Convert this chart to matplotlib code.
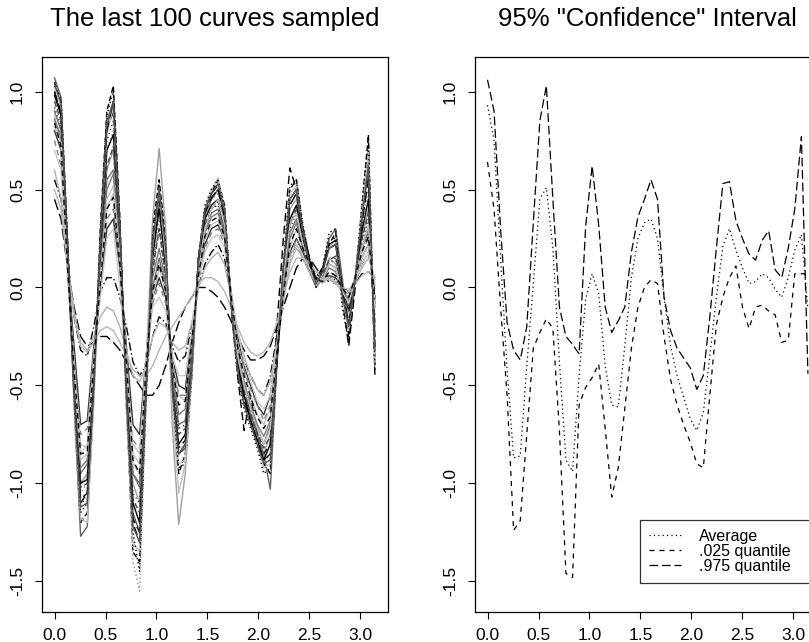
import matplotlib
matplotlib.use("Agg")
import matplotlib.pyplot as plt

plt.rcParams['font.family'] = ['Liberation Sans', 'DejaVu Sans']

# x grid (0 .. pi, 50 points)
x_grid = [0.000, 0.064, 0.128, 0.192, 0.256, 0.321, 0.385, 0.449, 0.513, 0.577,
          0.641, 0.705, 0.769, 0.834, 0.898, 0.962, 1.026, 1.090, 1.154, 1.218,
          1.282, 1.346, 1.411, 1.475, 1.539, 1.603, 1.667, 1.731, 1.795, 1.859,
          1.923, 1.988, 2.052, 2.116, 2.180, 2.244, 2.308, 2.372, 2.436, 2.500,
          2.565, 2.629, 2.693, 2.757, 2.821, 2.885, 2.949, 3.013, 3.078, 3.142]

# Right panel series
average = [0.93, 0.75, 0.15, -0.42, -0.87, -0.86, -0.40, 0.02, 0.45, 0.51,
           0.20, -0.38, -0.88, -0.94, -0.45, -0.06, 0.07, -0.03, -0.40, -0.60,
           -0.61, -0.30, 0.05, 0.25, 0.33, 0.35, 0.25, -0.05, -0.30, -0.45,
           -0.56, -0.67, -0.73, -0.64, -0.35, -0.05, 0.21, 0.30, 0.19, 0.10,
           0.02, 0.03, 0.07, 0.05, -0.01, -0.05, 0.05, 0.19, 0.27, -0.11]
q025 = [0.64, 0.40, -0.10, -0.55, -1.24, -1.19, -0.75, -0.31, -0.23, -0.16,
        -0.21, -0.73, -1.46, -1.48, -0.60, -0.51, -0.46, -0.39, -0.72, -1.07,
        -0.92, -0.62, -0.31, -0.10, 0.00, 0.04, 0.02, -0.25, -0.47, -0.60,
        -0.70, -0.79, -0.90, -0.92, -0.55, -0.19, -0.05, 0.05, 0.11, -0.10,
        -0.21, -0.10, -0.09, -0.12, -0.14, -0.28, -0.27, 0.07, 0.07, 0.07]
q975 = [1.06, 0.90, 0.30, -0.18, -0.32, -0.37, -0.20, 0.33, 0.85, 1.03,
        0.45, -0.10, -0.25, -0.29, -0.34, 0.31, 0.62, 0.32, -0.10, -0.23,
        -0.17, -0.10, 0.18, 0.36, 0.45, 0.55, 0.45, -0.05, -0.22, -0.31,
        -0.36, -0.41, -0.52, -0.45, -0.15, 0.20, 0.53, 0.54, 0.34, 0.25,
        0.17, 0.14, 0.24, 0.29, 0.09, 0.05, 0.20, 0.40, 0.77, -0.44]

# Left panel: a selection of sampled curves
curve01 = [1.05, 0.95, 0.25, -0.50, -1.20, -1.15, -0.55, 0.30, 0.90, 1.03, 0.35, -0.60, -1.35, -1.40, -0.55, 0.30, 0.55, 0.25, -0.60, -0.95, -0.85, -0.45, 0.15, 0.40, 0.48, 0.55, 0.42, -0.05, -0.35, -0.55, -0.65, -0.75, -0.90, -0.95, -0.40, 0.10, 0.50, 0.55, 0.30, 0.15, 0.05, 0.10, 0.22, 0.28, 0.00, -0.25, 0.05, 0.40, 0.78, -0.42]
curve02 = [0.90, 0.80, 0.15, -0.45, -0.95, -0.90, -0.40, 0.05, 0.55, 0.60, 0.20, -0.40, -0.95, -1.00, -0.45, 0.00, 0.15, 0.00, -0.45, -0.70, -0.68, -0.30, 0.10, 0.30, 0.38, 0.40, 0.28, -0.05, -0.35, -0.50, -0.62, -0.72, -0.80, -0.70, -0.35, 0.00, 0.28, 0.35, 0.20, 0.08, 0.00, 0.05, 0.12, 0.10, 0.00, -0.08, 0.05, 0.20, 0.30, -0.10]
curve03 = [0.80, 0.70, 0.10, -0.30, -0.70, -0.68, -0.30, 0.00, 0.30, 0.35, 0.10, -0.30, -0.70, -0.75, -0.35, -0.05, 0.05, -0.05, -0.35, -0.50, -0.52, -0.25, 0.05, 0.22, 0.30, 0.32, 0.25, -0.02, -0.25, -0.40, -0.50, -0.60, -0.65, -0.55, -0.30, -0.02, 0.18, 0.25, 0.18, 0.10, 0.05, 0.05, 0.06, 0.05, 0.00, -0.02, 0.04, 0.15, 0.22, -0.05]
curve04 = [0.45, 0.35, 0.10, -0.10, -0.25, -0.30, -0.28, -0.25, -0.25, -0.28, -0.32, -0.38, -0.45, -0.50, -0.55, -0.55, -0.50, -0.40, -0.28, -0.18, -0.10, -0.05, 0.00, 0.00, -0.02, -0.05, -0.10, -0.17, -0.25, -0.32, -0.37, -0.37, -0.35, -0.30, -0.20, -0.10, 0.00, 0.10, 0.15, 0.15, 0.10, 0.05, 0.03, 0.02, 0.00, -0.02, 0.02, 0.07, 0.08, 0.05]
curve05 = [0.55, 0.45, 0.15, -0.15, -0.32, -0.35, -0.20, -0.02, 0.05, 0.05, -0.05, -0.20, -0.38, -0.45, -0.40, -0.25, -0.15, -0.18, -0.30, -0.38, -0.35, -0.20, 0.00, 0.12, 0.18, 0.22, 0.15, -0.05, -0.25, -0.38, -0.45, -0.52, -0.55, -0.45, -0.25, -0.05, 0.15, 0.22, 0.15, 0.08, 0.02, 0.03, 0.05, 0.04, 0.00, -0.03, 0.03, 0.12, 0.18, -0.02]
curve06 = [0.95, 0.85, 0.20, -0.55, -1.05, -1.00, -0.45, 0.15, 0.70, 0.80, 0.25, -0.55, -1.40, -1.55, -0.60, 0.10, 0.35, 0.10, -0.55, -0.85, -0.80, -0.40, 0.10, 0.35, 0.45, 0.48, 0.35, -0.05, -0.40, -0.58, -0.70, -0.80, -0.90, -0.85, -0.40, 0.05, 0.35, 0.40, 0.25, 0.10, 0.00, 0.05, 0.15, 0.15, -0.05, -0.15, 0.05, 0.30, 0.50, -0.30]
curve07 = [0.85, 0.78, 0.12, -0.50, -1.00, -0.95, -0.40, 0.10, 0.60, 0.70, 0.20, -0.45, -1.00, -1.10, -0.40, 0.35, 0.71, 0.30, -0.70, -1.21, -0.95, -0.45, 0.10, 0.35, 0.45, 0.50, 0.35, -0.05, -0.40, -0.55, -0.68, -0.78, -0.85, -0.75, -0.30, 0.10, 0.40, 0.45, 0.25, 0.10, 0.02, 0.05, 0.15, 0.12, -0.02, -0.10, 0.05, 0.25, 0.40, -0.20]
curve08 = [1.00, 0.90, 0.20, -0.55, -1.10, -1.05, -0.50, 0.20, 0.80, 0.90, 0.30, -0.55, -1.20, -1.30, -0.50, 0.25, 0.50, 0.20, -0.55, -0.85, -0.80, -0.40, 0.15, 0.40, 0.48, 0.52, 0.38, -0.10, -0.45, -0.73, -0.55, -0.75, -0.85, -0.80, -0.20, 0.25, 0.61, 0.50, 0.30, 0.15, 0.05, 0.08, 0.25, 0.25, -0.05, -0.30, 0.00, 0.35, 0.70, -0.45]
curve09 = [1.07, 0.97, 0.22, -0.60, -1.27, -1.22, -0.55, 0.25, 0.85, 0.95, 0.30, -0.50, -1.15, -1.25, -0.50, 0.20, 0.45, 0.15, -0.50, -0.85, -0.80, -0.40, 0.15, 0.38, 0.45, 0.50, 0.38, -0.08, -0.40, -0.55, -0.65, -0.75, -0.85, -1.03, -0.40, 0.10, 0.45, 0.50, 0.25, 0.12, 0.02, 0.10, 0.25, 0.30, 0.05, -0.20, 0.05, 0.35, 0.60, -0.35]
curve10 = [0.88, 0.72, 0.10, -0.40, -0.80, -0.82, -0.35, 0.05, 0.40, 0.48, 0.15, -0.35, -0.85, -0.90, -0.40, -0.05, 0.10, -0.02, -0.38, -0.55, -0.58, -0.28, 0.05, 0.25, 0.32, 0.34, 0.25, -0.05, -0.28, -0.42, -0.55, -0.65, -0.70, -0.62, -0.32, -0.05, 0.20, 0.30, 0.20, 0.12, 0.05, 0.02, 0.05, 0.02, -0.02, -0.05, 0.05, 0.15, 0.22, -0.08]
curve11 = [0.98, 0.88, 0.18, -0.48, -1.00, -0.98, -0.45, 0.15, 0.70, 0.78, 0.25, -0.50, -1.10, -1.20, -0.50, 0.15, 0.40, 0.10, -0.50, -0.80, -0.75, -0.38, 0.12, 0.35, 0.42, 0.45, 0.32, -0.05, -0.38, -0.55, -0.68, -0.78, -0.88, -0.80, -0.38, 0.05, 0.35, 0.42, 0.25, 0.12, 0.05, 0.10, 0.20, 0.22, 0.00, -0.12, 0.05, 0.28, 0.45, -0.25]
curve12 = [0.75, 0.62, 0.08, -0.35, -0.75, -0.72, -0.32, 0.00, 0.35, 0.40, 0.10, -0.35, -0.78, -0.82, -0.38, -0.08, 0.02, -0.08, -0.38, -0.55, -0.55, -0.28, 0.02, 0.20, 0.28, 0.30, 0.22, -0.05, -0.28, -0.42, -0.52, -0.60, -0.68, -0.60, -0.32, -0.05, 0.15, 0.25, 0.15, 0.08, 0.02, 0.04, 0.08, 0.06, -0.02, -0.05, 0.05, 0.18, 0.25, 0.00]
curve13 = [0.60, 0.45, 0.12, -0.12, -0.28, -0.32, -0.25, -0.15, -0.10, -0.12, -0.20, -0.32, -0.45, -0.48, -0.40, -0.25, -0.18, -0.20, -0.28, -0.32, -0.30, -0.18, 0.00, 0.10, 0.15, 0.18, 0.12, -0.05, -0.22, -0.35, -0.45, -0.52, -0.55, -0.48, -0.28, -0.08, 0.12, 0.20, 0.15, 0.08, 0.02, 0.03, 0.05, 0.03, -0.02, -0.03, 0.03, 0.10, 0.15, 0.05]
curve14 = [0.92, 0.82, 0.15, -0.52, -1.10, -1.08, -0.48, 0.12, 0.75, 0.85, 0.25, -0.45, -1.05, -1.10, -0.45, 0.10, 0.30, 0.05, -0.45, -0.72, -0.70, -0.35, 0.10, 0.32, 0.40, 0.42, 0.30, -0.05, -0.35, -0.50, -0.62, -0.72, -0.80, -0.72, -0.35, 0.05, 0.30, 0.38, 0.22, 0.10, 0.02, 0.05, 0.12, 0.15, -0.02, -0.10, 0.05, 0.22, 0.35, -0.15]
curve15 = [1.02, 0.92, 0.18, -0.58, -1.18, -1.20, -0.60, 0.20, 0.78, 0.92, 0.28, -0.62, -1.30, -1.35, -0.58, 0.22, 0.48, 0.18, -0.58, -0.90, -0.88, -0.42, 0.12, 0.40, 0.50, 0.56, 0.40, -0.08, -0.42, -0.60, -0.70, -0.80, -0.92, -0.90, -0.35, 0.12, 0.48, 0.52, 0.28, 0.12, 0.02, 0.08, 0.20, 0.25, -0.05, -0.22, 0.05, 0.38, 0.70, -0.38]
curve16 = [0.95, 0.85, 0.16, -0.50, -1.02, -1.00, -0.42, 0.10, 0.62, 0.72, 0.22, -0.48, -1.08, -1.15, -0.48, 0.08, 0.30, 0.05, -0.48, -0.75, -0.72, -0.35, 0.10, 0.32, 0.40, 0.44, 0.30, -0.06, -0.36, -0.52, -0.64, -0.74, -0.82, -0.76, -0.36, 0.05, 0.32, 0.40, 0.22, 0.10, 0.03, 0.06, 0.14, 0.16, -0.02, -0.12, 0.04, 0.24, 0.38, -0.18]
curve17 = [0.70, 0.60, 0.05, -0.40, -0.85, -0.80, -0.35, -0.05, 0.25, 0.30, 0.00, -0.40, -0.80, -0.85, -0.35, -0.10, -0.05, -0.12, -0.35, -0.45, -0.45, -0.22, 0.05, 0.18, 0.25, 0.27, 0.20, -0.02, -0.22, -0.38, -0.48, -0.58, -0.62, -0.55, -0.30, -0.05, 0.15, 0.22, 0.16, 0.10, 0.06, 0.04, 0.04, 0.02, -0.01, -0.02, 0.04, 0.12, 0.18, 0.02]
curve18 = [1.03, 0.96, 0.24, -0.55, -1.15, -1.10, -0.50, 0.28, 0.88, 1.00, 0.35, -0.55, -1.25, -1.45, -0.55, 0.25, 0.52, 0.22, -0.55, -0.92, -0.90, -0.45, 0.15, 0.42, 0.50, 0.55, 0.42, -0.08, -0.45, -0.62, -0.72, -0.82, -0.95, -0.92, -0.38, 0.12, 0.52, 0.55, 0.32, 0.15, 0.00, 0.10, 0.28, 0.30, -0.10, -0.28, 0.02, 0.42, 0.75, -0.40]
curve19 = [0.50, 0.40, 0.10, -0.15, -0.30, -0.33, -0.28, -0.22, -0.20, -0.22, -0.28, -0.35, -0.42, -0.45, -0.45, -0.40, -0.32, -0.25, -0.20, -0.15, -0.10, -0.05, 0.02, 0.05, 0.05, 0.03, -0.02, -0.10, -0.20, -0.28, -0.33, -0.35, -0.33, -0.28, -0.18, -0.05, 0.08, 0.15, 0.15, 0.12, 0.08, 0.05, 0.04, 0.02, 0.00, -0.01, 0.02, 0.06, 0.08, 0.04]
curve20 = [0.86, 0.76, 0.12, -0.45, -0.92, -0.88, -0.38, 0.08, 0.50, 0.58, 0.18, -0.42, -0.95, -1.02, -0.42, 0.05, 0.20, 0.02, -0.42, -0.65, -0.62, -0.32, 0.08, 0.28, 0.36, 0.38, 0.27, -0.05, -0.32, -0.48, -0.60, -0.70, -0.76, -0.68, -0.35, -0.02, 0.25, 0.33, 0.20, 0.10, 0.02, 0.04, 0.10, 0.08, -0.01, -0.06, 0.05, 0.20, 0.28, -0.08]
curve21 = [1.00, 0.88, 0.20, -0.52, -1.08, -1.05, -0.48, 0.18, 0.80, 0.95, 0.28, -0.52, -1.18, -1.25, -0.52, 0.18, 0.45, 0.15, -0.52, -0.82, -0.78, -0.40, 0.12, 0.38, 0.46, 0.50, 0.36, -0.08, -0.40, -0.58, -0.68, -0.78, -0.88, -0.85, -0.38, 0.08, 0.42, 0.48, 0.28, 0.14, 0.04, 0.08, 0.22, 0.24, -0.02, -0.18, 0.04, 0.32, 0.55, -0.30]
curve22 = [0.82, 0.74, 0.10, -0.42, -0.88, -0.85, -0.38, 0.05, 0.45, 0.52, 0.15, -0.40, -0.90, -0.95, -0.38, 0.20, 0.50, 0.15, -0.60, -1.05, -0.90, -0.42, 0.08, 0.30, 0.40, 0.45, 0.32, -0.05, -0.35, -0.50, -0.62, -0.72, -0.80, -0.72, -0.32, 0.05, 0.32, 0.38, 0.22, 0.10, 0.02, 0.04, 0.12, 0.10, -0.02, -0.08, 0.04, 0.20, 0.32, -0.10]
curve23 = [1.04, 0.94, 0.20, -0.55, -1.12, -1.10, -0.52, 0.22, 0.82, 0.95, 0.30, -0.55, -1.22, -1.30, -0.52, 0.22, 0.50, 0.20, -0.52, -0.85, -0.82, -0.42, 0.14, 0.40, 0.48, 0.53, 0.40, -0.08, -0.42, -0.60, -0.70, -0.80, -0.90, -0.88, -0.36, 0.10, 0.45, 0.50, 0.28, 0.12, 0.02, 0.08, 0.20, 0.22, -0.04, -0.20, 0.04, 0.35, 0.62, -0.32]
curve24 = [0.84, 0.72, 0.10, -0.42, -0.85, -0.84, -0.38, 0.02, 0.40, 0.46, 0.12, -0.38, -0.88, -0.95, -0.40, -0.02, 0.12, -0.02, -0.40, -0.60, -0.58, -0.28, 0.06, 0.26, 0.34, 0.36, 0.26, -0.04, -0.30, -0.45, -0.56, -0.66, -0.72, -0.66, -0.34, -0.04, 0.22, 0.30, 0.20, 0.12, 0.04, 0.03, 0.08, 0.06, 0.00, -0.05, 0.05, 0.18, 0.26, -0.06]

curves = [curve01, curve02, curve03, curve04, curve05, curve06, curve07, curve08,
          curve09, curve10, curve11, curve12, curve13, curve14, curve15, curve16,
          curve17, curve18, curve19, curve20, curve21, curve22, curve23, curve24]
curve_colors = ['black', '#707070', '#303030', 'black', 'black', '#909090', '#a0a0a0', 'black',
                '#606060', '#c0c0c0', 'black', '#808080', '#b0b0b0', '#404040', '#bdbdbd', '#454545',
                '#c8c8c8', 'black', '#b5b5b5', '#7a7a7a', 'black', '#c0c0c0', '#505050', 'black']
curve_styles = [(0, (4, 2)), '-', '-', (0, (8, 3)), (0, (6, 2, 1, 2)), (0, (1, 2)), '-', (0, (6, 3)),
                '-', '-', '-', (0, (4, 3)), '-', (0, (1, 2)), '-', (0, (4, 2)),
                '-', (0, (1, 2)), '-', '-', (0, (8, 3)), '-', '-', (0, (4, 3))]

titles = ['The last 100 curves sampled', '95% "Confidence" Interval']
legend_labels = ['Average', '.025 quantile', '.975 quantile']
xticks = [0.0, 0.5, 1.0, 1.5, 2.0, 2.5, 3.0]
yticks = [-1.5, -1.0, -0.5, 0.0, 0.5, 1.0]

W, H = 809, 642
fig = plt.figure(figsize=(W / 100, H / 100), dpi=100)

ax_w = 346 / W
ax_h = 555 / H
ax_b = (H - 611.7) / H
ax1 = fig.add_axes([41.7 / W, ax_b, ax_w, ax_h])
ax2 = fig.add_axes([474.7 / W, ax_b, ax_w, ax_h])

for c, col, ls in zip(curves, curve_colors, curve_styles):
    ax1.plot(x_grid, c, color=col, linestyle=ls, linewidth=1.0)

ax2.plot(x_grid, average, color='black', linestyle=(0, (1, 2.5)), linewidth=0.9, label=legend_labels[0])
ax2.plot(x_grid, q025, color='black', linestyle=(0, (4, 4)), linewidth=0.9, label=legend_labels[1])
ax2.plot(x_grid, q975, color='black', linestyle=(0, (7, 3)), linewidth=0.9, label=legend_labels[2])

for ax, t in zip([ax1, ax2], titles):
    ax.set_xlim(-0.1257, 3.2673)
    ax.set_ylim(-1.655, 1.178)
    ax.set_xticks(xticks)
    ax.set_yticks(yticks)
    ax.set_xticklabels(['%.1f' % v for v in xticks])
    ax.set_yticklabels(['%.1f' % v for v in yticks], rotation=90, va='center')
    ax.tick_params(direction='out', length=5, width=0.8, labelsize=12.5, pad=7, colors='black')
    for s in ax.spines.values():
        s.set_linewidth(0.9)
        s.set_color('black')
    ax.set_title(t, fontsize=18.5, pad=22)

leg = ax2.legend(loc='lower left', bbox_to_anchor=(0.478, 0.052, 0.6, 0.1), mode='expand',
                 fontsize=11.5, handlelength=2.0, handletextpad=1.15, labelspacing=0.0,
                 borderpad=0.55, frameon=True, fancybox=False, borderaxespad=0.0)
leg.get_frame().set_edgecolor('black')
leg.get_frame().set_linewidth(0.9)

fig.savefig('out.png', dpi=100)
